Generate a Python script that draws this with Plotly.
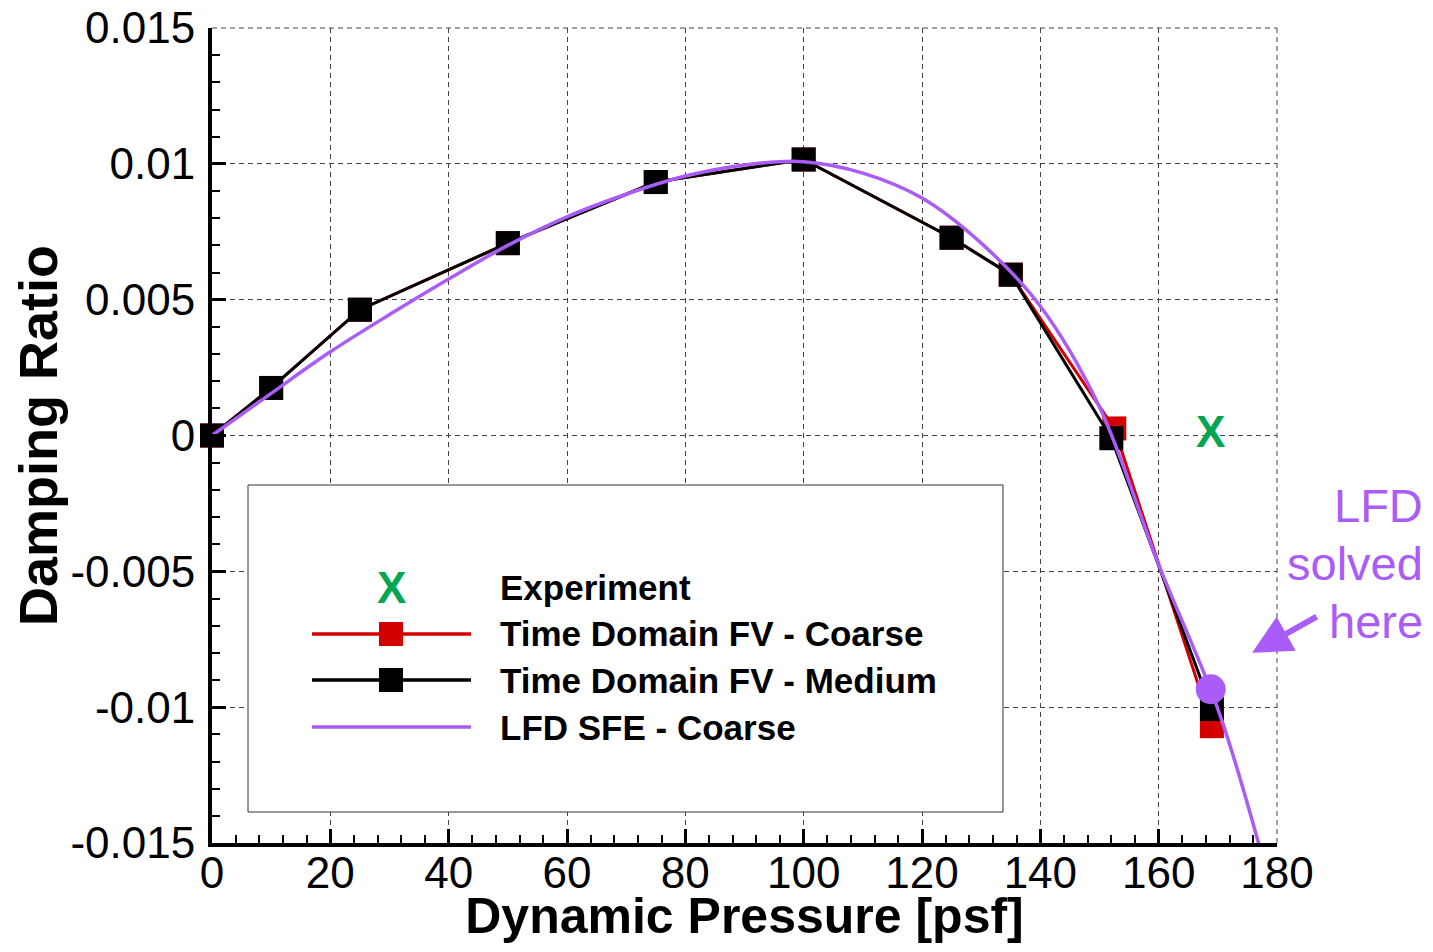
import plotly.graph_objects as go

# ---- data ----
q_fv = [0, 10, 25, 50, 75, 100, 125, 135, 152, 169]
zeta_medium = [0.0, 0.00175, 0.00463, 0.00708, 0.00933, 0.01016, 0.00728, 0.00592, -0.00010, -0.01007]
q_coarse = [0, 10, 25, 50, 75, 100, 125, 135, 152.5, 169]
zeta_coarse = [0.0, 0.00175, 0.00463, 0.00708, 0.00933, 0.01016, 0.00728, 0.00592, 0.00026, -0.0107]

q_lfd = [0, 10, 20, 30, 40, 50, 60, 70, 80, 90, 100, 110, 120, 130, 140, 150, 160, 170, 177]
zeta_lfd = [0.0, 0.00155, 0.00308, 0.00445, 0.00576, 0.00700, 0.00805, 0.00888, 0.00955, 0.00996,
            0.01008, 0.00966, 0.00874, 0.00708, 0.00476, 0.00105, -0.00475, -0.01006, -0.0151]

q_exp = [168.8]
zeta_exp = [0.0]

q_solved = [168.8]
zeta_solved = [-0.00934]

x_ticks = [0, 20, 40, 60, 80, 100, 120, 140, 160, 180]
y_ticks = [-0.015, -0.01, -0.005, 0, 0.005, 0.01, 0.015]
y_ticktext = ["-0.015", "-0.01", "-0.005", "0", "0.005", "0.01", "0.015"]

legend_labels = ["Experiment", "Time Domain FV - Coarse", "Time Domain FV - Medium", "LFD SFE - Coarse"]
note_lines = ["LFD", "solved", "here"]

RED = "#d40000"
PURPLE = "#a95cf7"
GREEN = "#00a651"
FONT = "Liberation Sans"
GRID_DASH = "5px,4px"

# page offset (default body margin) and plot-area geometry in page pixels
OFF = 8
W, H = 1433 - 2 * OFF, 952 - 2 * OFF
L, R, T, B = 212 - OFF, 1277 - OFF, 28 - OFF, 843 - OFF


def px(xp):
    return (xp - OFF - L) / (R - L)


def py(yp):
    return (B - (yp - OFF)) / (B - T)


fig = go.Figure()

fig.add_trace(go.Scatter(
    x=q_coarse, y=zeta_coarse, mode="lines+markers", name=legend_labels[1],
    line=dict(color=RED, width=3), marker=dict(symbol="square", size=24, color=RED),
    cliponaxis=False, showlegend=False))
fig.add_trace(go.Scatter(
    x=q_fv, y=zeta_medium, mode="lines+markers", name=legend_labels[2],
    line=dict(color="black", width=3), marker=dict(symbol="square", size=24, color="black"),
    cliponaxis=False, showlegend=False))
fig.add_trace(go.Scatter(
    x=q_lfd, y=zeta_lfd, mode="lines", name=legend_labels[3],
    line=dict(color=PURPLE, width=3.5, shape="spline", smoothing=1.0), showlegend=False))
fig.add_trace(go.Scatter(
    x=q_solved, y=zeta_solved, mode="markers", showlegend=False,
    marker=dict(symbol="circle", size=30, color=PURPLE), cliponaxis=False))
fig.add_trace(go.Scatter(
    x=q_exp, y=zeta_exp, mode="text", name=legend_labels[0], text=["<b>X</b>"],
    textposition="middle center",
    textfont=dict(family=FONT, size=44, color=GREEN),
    cliponaxis=False, showlegend=False))

# top / right grid lines at the range ends
fig.add_shape(type="line", xref="paper", yref="paper", x0=0, x1=1, y0=1, y1=1,
              line=dict(color="#444444", width=1, dash=GRID_DASH), layer="below")
fig.add_shape(type="line", xref="paper", yref="paper", x0=1, x1=1, y0=0, y1=1,
              line=dict(color="#444444", width=1, dash=GRID_DASH), layer="below")

# ---- legend (drawn box, lines, symbols and labels) ----
fig.add_shape(type="rect", xref="paper", yref="paper",
              x0=px(248), x1=px(1003), y0=py(812), y1=py(485),
              line=dict(color="#333333", width=1), fillcolor="white", layer="above")
row_y = [587, 634, 680, 727]
row_color = [None, RED, "black", PURPLE]
for i, (lab, yy, col) in enumerate(zip(legend_labels, row_y, row_color)):
    fig.add_annotation(x=px(498), y=py(yy), xref="paper", yref="paper", text="<b>%s</b>" % lab,
                       showarrow=False, xanchor="left", yanchor="middle",
                       font=dict(family=FONT, size=35, color="black"))
    if i == 0:
        fig.add_annotation(x=px(391), y=py(yy), xref="paper", yref="paper", text="<b>X</b>",
                           showarrow=False, xanchor="center", yanchor="middle",
                           font=dict(family=FONT, size=44, color=GREEN))
    else:
        fig.add_shape(type="line", xref="paper", yref="paper", x0=px(312), x1=px(471),
                      y0=py(yy), y1=py(yy), line=dict(color=col, width=3.5), layer="above")
        if i < 3:
            fig.add_shape(type="rect", xref="paper", yref="paper",
                          x0=px(391 - 12), x1=px(391 + 12), y0=py(yy + 12), y1=py(yy - 12),
                          line=dict(width=0), fillcolor=col, layer="above")

axis_common = dict(
    showline=True, linecolor="black", linewidth=4, mirror=False,
    ticks="inside", ticklen=14, tickwidth=3, tickcolor="black",
    showgrid=True, gridcolor="#444444", gridwidth=1, griddash=GRID_DASH,
    zeroline=False, automargin=False, ticklabeloverflow="allow",
    tickfont=dict(family=FONT, size=44, color="black"),
)

fig.update_xaxes(
    range=[0, 180], tickvals=x_ticks, ticklabelstandoff=-12,
    title=dict(text="<b>Dynamic Pressure [psf]</b>", font=dict(family=FONT, size=50, color="black"), standoff=8),
    minor=dict(dtick=4, ticks="inside", ticklen=8, tickwidth=1.5, tickcolor="black", showgrid=False),
    **axis_common)
fig.update_yaxes(
    range=[-0.015, 0.015], tickvals=y_ticks, ticktext=y_ticktext, ticklabelstandoff=4,
    title=dict(text="<b>Damping Ratio</b>", font=dict(family=FONT, size=54, color="black"), standoff=18),
    minor=dict(dtick=0.001, ticks="inside", ticklen=8, tickwidth=1.5, tickcolor="black", showgrid=False),
    **axis_common)

# note text (one annotation per line) and arrow
for line_text, yy in zip(note_lines, [506, 563, 621]):
    fig.add_annotation(x=px(1425), y=py(yy), xref="paper", yref="paper",
                       text=line_text, showarrow=False, xanchor="right", yanchor="middle",
                       font=dict(family=FONT, size=47, color=PURPLE))
fig.add_annotation(x=175.8, y=-0.0080, xref="x", yref="y", text="", showarrow=True,
                   ax=66, ay=-37, arrowcolor=PURPLE, arrowwidth=6, arrowhead=2, arrowsize=1.3)

fig.update_layout(
    width=W, height=H,
    margin=dict(l=L, r=W - R, t=T, b=H - B, autoexpand=False),
    paper_bgcolor="white", plot_bgcolor="white",
    showlegend=False,
)

fig.write_html("out.html")
